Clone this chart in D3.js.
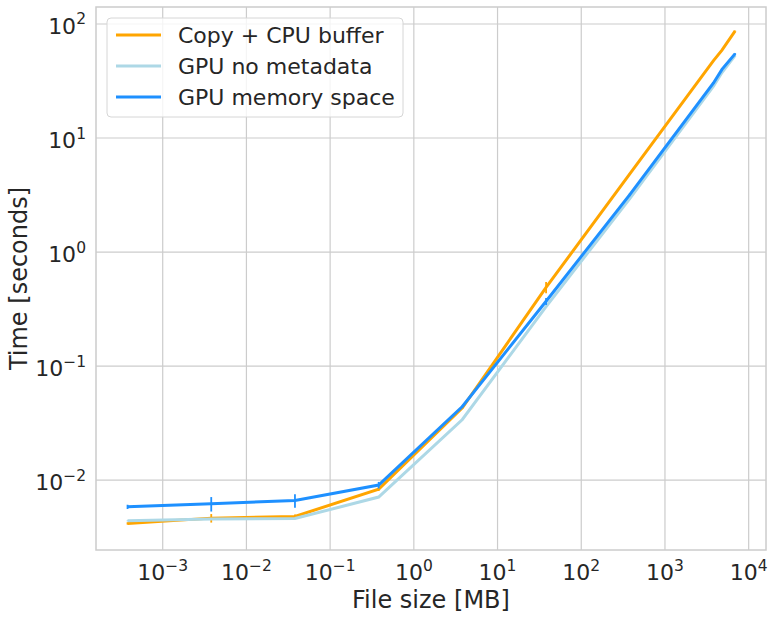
<!DOCTYPE html>
<html>
<head>
<meta charset="utf-8">
<script src="https://cdn.jsdelivr.net/npm/d3@7/dist/d3.min.js"></script>
<style>
  body { margin: 0; background: #fff; }
  svg text { font-family: "DejaVu Sans", sans-serif; fill: #262626; }
</style>
</head>
<body>
<div class="chart"></div>
<script>
var svgWidth = 774;
var svgHeight = 620;

var margin = { top: 7, right: 8, bottom: 70, left: 96 };

var width = svgWidth - margin.left - margin.right;
var height = svgHeight - margin.top - margin.bottom;

// file sizes in MB
var sizes = [3.8e-4, 3.8e-3, 3.8e-2, 0.38, 3.8, 38, 380, 3800, 4800, 6900];

var seriesNames = ["Copy + CPU buffer", "GPU no metadata", "GPU memory space"];
var seriesColors = ["#FFA500", "#ADD8E6", "#1E90FF"];

var copyCpu    = [0.00417, 0.00464, 0.0048, 0.00834, 0.043, 0.49, 4.84, 47.7, 59, 87];
var copyCpuErr = [0.0001, 0.0004, 0.0002, 0.0003, 0.001, 0.055, 0.1, 0.5, 0.8, 0.5];

var gpuNoMeta    = [0.0044, 0.00455, 0.0046, 0.0071, 0.034, 0.332, 2.95, 28.5, 37.5, 53];
var gpuNoMetaErr = [0.00005, 0.00005, 0.00005, 0.0001, 0.0005, 0.005, 0.05, 0.3, 0.3, 0.3];

var gpuMem    = [0.00583, 0.0062, 0.00662, 0.00904, 0.0442, 0.37, 3.19, 30.4, 40, 55];
var gpuMemErr = [0.00025, 0.0009, 0.0009, 0.0006, 0.001, 0.026, 0.1, 0.5, 0.5, 0.5];

var xTicks = [-3, -2, -1, 0, 1, 2, 3, 4];
var yTicks = [-2, -1, 0, 1, 2];

var allSeries = [
    { name: seriesNames[0], color: seriesColors[0], values: copyCpu, err: copyCpuErr },
    { name: seriesNames[1], color: seriesColors[1], values: gpuNoMeta, err: gpuNoMetaErr },
    { name: seriesNames[2], color: seriesColors[2], values: gpuMem, err: gpuMemErr }
];

var svg = d3.select(".chart")
    .append("svg")
    .attr("width", svgWidth)
    .attr("height", svgHeight);

var chart = svg.append("g")
    .attr("transform", "translate(" + margin.left + "," + margin.top + ")");

var xLogScale = d3.scaleLog()
    .domain([Math.pow(10, -3.797), Math.pow(10, 4.207)])
    .range([0, width]);

var yLogScale = d3.scaleLog()
    .domain([Math.pow(10, -2.613), Math.pow(10, 2.149)])
    .range([height, 0]);

// grid
chart.selectAll(".xgrid")
    .data(xTicks)
    .enter().append("line")
    .attr("x1", function(d) { return xLogScale(Math.pow(10, d)); })
    .attr("x2", function(d) { return xLogScale(Math.pow(10, d)); })
    .attr("y1", 0)
    .attr("y2", height)
    .attr("stroke", "#cccccc")
    .attr("stroke-width", 1.2);

chart.selectAll(".ygrid")
    .data(yTicks)
    .enter().append("line")
    .attr("x1", 0)
    .attr("x2", width)
    .attr("y1", function(d) { return yLogScale(Math.pow(10, d)); })
    .attr("y2", function(d) { return yLogScale(Math.pow(10, d)); })
    .attr("stroke", "#cccccc")
    .attr("stroke-width", 1.2);

chart.append("rect")
    .attr("width", width)
    .attr("height", height)
    .attr("fill", "none")
    .attr("stroke", "#cccccc")
    .attr("stroke-width", 1.5);

// tick labels with superscript exponents
function powerLabel(sel, d) {
    sel.append("tspan").text("10");
    sel.append("tspan")
        .attr("dy", -9.5)
        .style("font-size", "15.5px")
        .text(d < 0 ? "\u2212" + Math.abs(d) : String(d));
}

chart.selectAll(".xtick")
    .data(xTicks)
    .enter().append("text")
    .attr("x", function(d) { return xLogScale(Math.pow(10, d)); })
    .attr("y", height + 30)
    .attr("text-anchor", "middle")
    .style("font-size", "22px")
    .each(function(d) { powerLabel(d3.select(this), d); });

chart.selectAll(".ytick")
    .data(yTicks)
    .enter().append("text")
    .attr("x", -10)
    .attr("y", function(d) { return yLogScale(Math.pow(10, d)) + 10; })
    .attr("text-anchor", "end")
    .style("font-size", "22px")
    .each(function(d) { powerLabel(d3.select(this), d); });

// lines and error bars
var line = d3.line()
    .x(function(d) { return xLogScale(d.x); })
    .y(function(d) { return yLogScale(d.y); });

allSeries.forEach(function(s) {
    var pts = sizes.map(function(x, i) { return { x: x, y: s.values[i], e: s.err[i] }; });
    chart.append("path")
        .datum(pts)
        .attr("fill", "none")
        .attr("stroke", s.color)
        .attr("stroke-width", 3)
        .attr("d", line);
    chart.selectAll(null)
        .data(pts)
        .enter().append("line")
        .attr("x1", function(d) { return xLogScale(d.x); })
        .attr("x2", function(d) { return xLogScale(d.x); })
        .attr("y1", function(d) { return yLogScale(d.y + d.e); })
        .attr("y2", function(d) { return yLogScale(Math.max(d.y - d.e, 1e-6)); })
        .attr("stroke", s.color)
        .attr("stroke-width", 1.8);
});

// axis labels
chart.append("text")
    .attr("x", width / 2)
    .attr("y", height + 58)
    .attr("text-anchor", "middle")
    .style("font-size", "24px")
    .text("File size [MB]");

chart.append("text")
    .attr("transform", "rotate(-90)")
    .attr("x", -height / 2)
    .attr("y", -69)
    .attr("text-anchor", "middle")
    .style("font-size", "24px")
    .text("Time [seconds]");

// legend
var legend = chart.append("g")
    .attr("transform", "translate(11,11)");

legend.append("rect")
    .attr("width", 296)
    .attr("height", 99)
    .attr("rx", 4)
    .attr("fill", "#ffffff")
    .attr("fill-opacity", 0.8)
    .attr("stroke", "#d6d6d6")
    .attr("stroke-width", 1);

var item = legend.selectAll(".item")
    .data(allSeries)
    .enter().append("g")
    .attr("transform", function(d, i) { return "translate(0," + (17 + i * 31) + ")"; });

item.append("line")
    .attr("x1", 9)
    .attr("x2", 54)
    .attr("stroke", function(d) { return d.color; })
    .attr("stroke-width", 3);

item.append("text")
    .attr("x", 71)
    .attr("y", 8)
    .style("font-size", "22px")
    .text(function(d) { return d.name; });
</script>
</body>
</html>
